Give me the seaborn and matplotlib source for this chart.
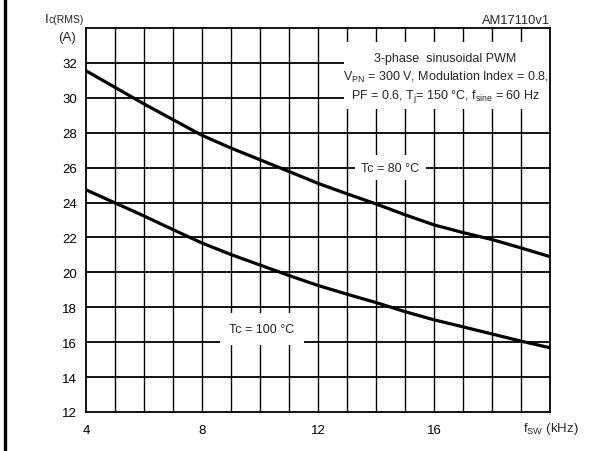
import numpy as np
import pandas as pd
import matplotlib
matplotlib.use("Agg")
import matplotlib.pyplot as plt
from matplotlib.patches import Rectangle
from matplotlib.lines import Line2D
import seaborn as sns

# switching frequency (kHz)
fsw = [4, 5, 6, 7, 8, 9, 10, 11, 12, 13, 14, 15, 16, 17, 18, 19, 20]
# Ic(RMS) for the two case temperatures (A)
ic_tc80 = [31.55, 30.6, 29.65, 28.75, 27.85, 27.12, 26.45, 25.78, 25.1, 24.5,
           23.92, 23.3, 22.72, 22.28, 21.88, 21.4, 20.9]
ic_tc100 = [24.73, 23.98, 23.23, 22.45, 21.68, 21.02, 20.42, 19.82, 19.25, 18.75,
            18.27, 17.75, 17.28, 16.88, 16.47, 16.06, 15.68]
series_names = ["Tc = 80 °C", "Tc = 100 °C"]

x_ticks = [4, 8, 12, 16]
y_ticks = [12, 14, 16, 18, 20, 22, 24, 26, 28, 30, 32]

df = pd.DataFrame({
    "fsw": fsw * 2,
    "ic": ic_tc80 + ic_tc100,
    "tc": [series_names[0]] * len(fsw) + [series_names[1]] * len(fsw),
})

sns.set_theme(style="white")
plt.rcParams["font.family"] = ["Liberation Sans", "DejaVu Sans"]
plt.rcParams["mathtext.default"] = "regular"

fig = plt.figure(figsize=(6.10, 4.52), dpi=100)
ax = fig.add_axes([86 / 610, 1 - 413 / 452, 464 / 610, 384 / 452])

ax = sns.lineplot(data=df, x="fsw", y="ic", hue="tc",
                  palette=["black", "black"], linewidth=2.3,
                  legend=False, ax=ax, zorder=3)

ax.set_xlim(4, 20)
ax.set_ylim(12, 34)
for v in range(5, 20):
    ax.axvline(v, color="black", lw=1.0, zorder=1)
for v in range(14, 34, 2):
    ax.axhline(v, color="black", lw=1.3, zorder=1)
for s in ax.spines.values():
    s.set_color("black")
    s.set_linewidth(1.3)

ax.set_xticks(x_ticks)
ax.set_xticklabels([str(t) for t in x_ticks])
ax.set_yticks(y_ticks)
ax.set_yticklabels([str(t) for t in y_ticks])
ax.tick_params(axis="both", length=0, labelsize=9.5, colors="black")
ax.tick_params(axis="x", pad=9)
ax.tick_params(axis="y", pad=6.5)
ax.set_xlabel("")
ax.set_ylabel("")

# white block behind the test conditions
ax.add_patch(Rectangle((12.9, 29.36), 7.1, 3.84, facecolor="white",
                       edgecolor="none", zorder=2))
ax.text(16.4, 32.29, "3-phase  sinusoidal PWM", ha="center", va="center",
        fontsize=9, zorder=4)
ax.text(16.4, 31.2, "V$_{PN}$ = 300 V, Modulation Index = 0.8,",
        ha="center", va="center", fontsize=9, zorder=4)
ax.text(16.4, 30.12, "PF = 0.6, T$_{j}$= 150 °C, f$_{sine}$ = 60 Hz",
        ha="center", va="center", fontsize=9, zorder=4)

ax.text(14.5, 26.0, series_names[0], ha="center", va="center", fontsize=9,
        zorder=4, bbox=dict(facecolor="white", edgecolor="none", pad=4.5))
ax.text(10.07, 16.75, series_names[1], ha="center", va="center", fontsize=9,
        zorder=4, bbox=dict(facecolor="white", edgecolor="none", pad=7))

ax.text(523 / 610, 1 - 429 / 452, "f$_{SW}$ (kHz)", transform=fig.transFigure,
        ha="left", va="center", fontsize=9.5)
fig.text(550 / 610, 1 - 20.5 / 452, "AM17110v1", ha="right", va="center",
         fontsize=9.3)
fig.text(45 / 610, 1 - 23 / 452, "I", ha="left", va="baseline", fontsize=9.5)
fig.text(48.5 / 610, 1 - 23 / 452, "c(RMS)", ha="left", va="baseline", fontsize=7.5)
fig.text(76 / 610, 1 - 38.5 / 452, "(A)", ha="right", va="center", fontsize=9.5)

fig.add_artist(Line2D([5 / 610, 5 / 610], [0, 1], color="black", lw=2.4,
                      transform=fig.transFigure))

fig.savefig("out.png", dpi=100)
